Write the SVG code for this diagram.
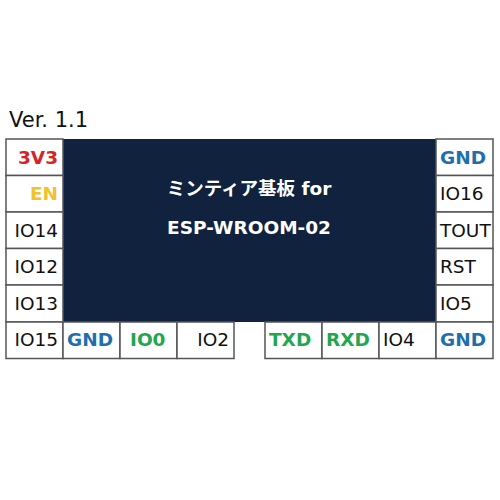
<svg xmlns="http://www.w3.org/2000/svg" width="500" height="500" viewBox="0 0 500 500">
<style>
.cell{fill:#fff;stroke:#555;stroke-width:1.5}
.t{font-family:"DejaVu Sans","Noto Sans CJK JP",sans-serif;font-size:18.5px;fill:#111}
.b{font-weight:bold}
.r{text-anchor:end}
.red{fill:#d42424}.yel{fill:#f2c12e}.blu{fill:#1f6fae}.grn{fill:#22a650}
.w{font-family:"DejaVu Sans","Noto Sans CJK JP",sans-serif;font-size:18.5px;font-weight:bold;fill:#fff;text-anchor:middle}
</style>
<rect width="500" height="500" fill="#fff"/>
<text class="t" x="9" y="127" style="font-size:21px">Ver. 1.1</text>
<g id="module">
<rect x="63" y="139" width="373" height="183" fill="#10223e"/>
<text class="w" x="249" y="195">ミンティア基板 for</text>
<text class="w" x="249" y="234">ESP-WROOM-02</text>
</g>
<g id="left">
<rect class="cell" x="6" y="139" width="57" height="36.5"/><text class="t b r red" x="58" y="164">3V3</text>
<rect class="cell" x="6" y="175.5" width="57" height="36.5"/><text class="t b r yel" x="58" y="200">EN</text>
<rect class="cell" x="6" y="212" width="57" height="36.5"/><text class="t r" x="58" y="237">IO14</text>
<rect class="cell" x="6" y="248.5" width="57" height="36.5"/><text class="t r" x="58" y="273">IO12</text>
<rect class="cell" x="6" y="285" width="57" height="37"/><text class="t r" x="58" y="310">IO13</text>
</g>
<g id="right">
<rect class="cell" x="436" y="139" width="57" height="36.5"/><text class="t b blu" x="440" y="164">GND</text>
<rect class="cell" x="436" y="175.5" width="57" height="36.5"/><text class="t" x="440" y="200">IO16</text>
<rect class="cell" x="436" y="212" width="57" height="36.5"/><text class="t" x="440" y="237">TOUT</text>
<rect class="cell" x="436" y="248.5" width="57" height="36.5"/><text class="t" x="440" y="273">RST</text>
<rect class="cell" x="436" y="285" width="57" height="37"/><text class="t" x="440" y="310">IO5</text>
</g>
<g id="bottom">
<rect class="cell" x="6" y="322" width="57" height="36.5"/><text class="t r" x="58" y="346">IO15</text>
<rect class="cell" x="63" y="322" width="57" height="36.5"/><text class="t b blu" x="67" y="346">GND</text>
<rect class="cell" x="120" y="322" width="57" height="36.5"/><text class="t b grn" x="130" y="346">IO0</text>
<rect class="cell" x="177" y="322" width="57" height="36.5"/><text class="t r" x="229" y="346">IO2</text>
<rect class="cell" x="265" y="322" width="57" height="36.5"/><text class="t b grn" x="269" y="346">TXD</text>
<rect class="cell" x="322" y="322" width="57" height="36.5"/><text class="t b grn" x="326" y="346">RXD</text>
<rect class="cell" x="379" y="322" width="57" height="36.5"/><text class="t" x="383" y="346">IO4</text>
<rect class="cell" x="436" y="322" width="57" height="36.5"/><text class="t b blu" x="440" y="346">GND</text>
</g>
</svg>
